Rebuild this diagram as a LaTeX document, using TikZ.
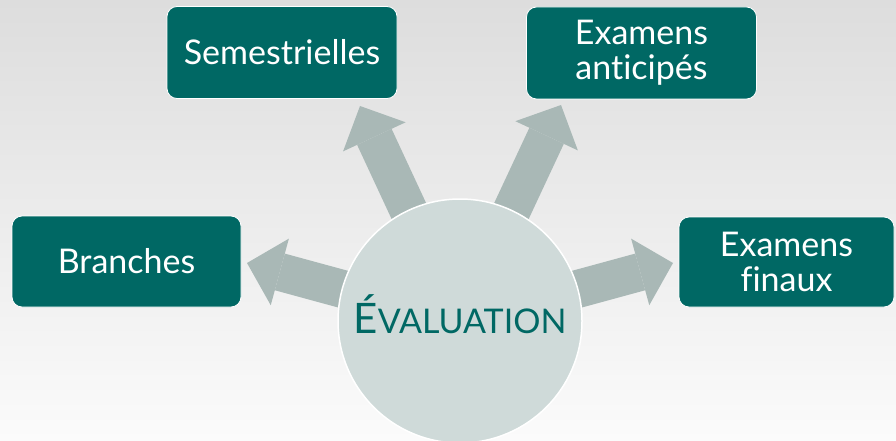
\documentclass[tikz,border=0pt]{standalone}
\usepackage{fontspec}
\setmainfont{Lato}[Ligatures=NoCommon]
\usetikzlibrary{arrows.meta}
\definecolor{boxteal}{RGB}{0,104,100}
\definecolor{hubfill}{RGB}{207,218,217}
\definecolor{arrowgray}{RGB}{169,184,182}
\definecolor{bgtop}{RGB}{221,221,221}
\definecolor{bgbottom}{RGB}{251,251,251}
\tikzset{
	topicbox/.style = {rectangle, rounded corners=10pt, draw=white, line width=0.8pt,
	                   fill=boxteal, text=white, align=center, inner sep=0pt,
	                   minimum width=230pt, minimum height=92pt,
	                   font=\fontsize{34}{35}\selectfont},
	hubcircle/.style = {circle, draw=white, line width=1.5pt, fill=hubfill,
	                    text=boxteal, inner sep=0pt, minimum size=244pt,
	                    text height=24pt, text depth=0pt},
	blockarrow/.style = {draw=arrowgray, line width=38pt,
	                     -{Triangle[width=69pt, length=34pt, line width=0pt]}},
}

\begin{document}
\begin{tikzpicture}[x=1pt, y=1pt]
		\useasboundingbox (0,0) rectangle (896,-441);
		\clip (0,0) rectangle (896,-441);
		\fill[top color=bgtop, bottom color=bgbottom] (0,0) rectangle (896,-441);
		% hub and arrow ends
		\coordinate (hub) at (460,-321);
		\coordinate (tipsem) at (360,-106);
		\coordinate (tipant) at (561,-105);
		\coordinate (tipbra) at (247,-263);
		\coordinate (tipfin) at (673,-263);
		\draw [blockarrow] (hub) to (tipsem);
		\draw [blockarrow] (hub) to (tipant);
		\draw [blockarrow] (hub) to (tipbra);
		\draw [blockarrow] (hub) to (tipfin);
		\node [hubcircle] (eval) at (hub) {{\fontsize{42}{42}\selectfont É}{\fontsize{34}{34}\selectfont VALUATION}};
		% boxes
		\node [topicbox] (sem) at (282,-52.5) {Semestrielles};
		\node [topicbox] (ant) at (641.5,-53) {Examens\\ant\kern0pt icipés};
		\node [topicbox, minimum width=229pt, minimum height=91pt] (bra) at (126.5,-261.5) {Branches};
		\node [topicbox, minimum width=215pt, minimum height=90pt] (fin) at (786.5,-262) {Examens\\finaux};
	\end{tikzpicture}
\end{document}
